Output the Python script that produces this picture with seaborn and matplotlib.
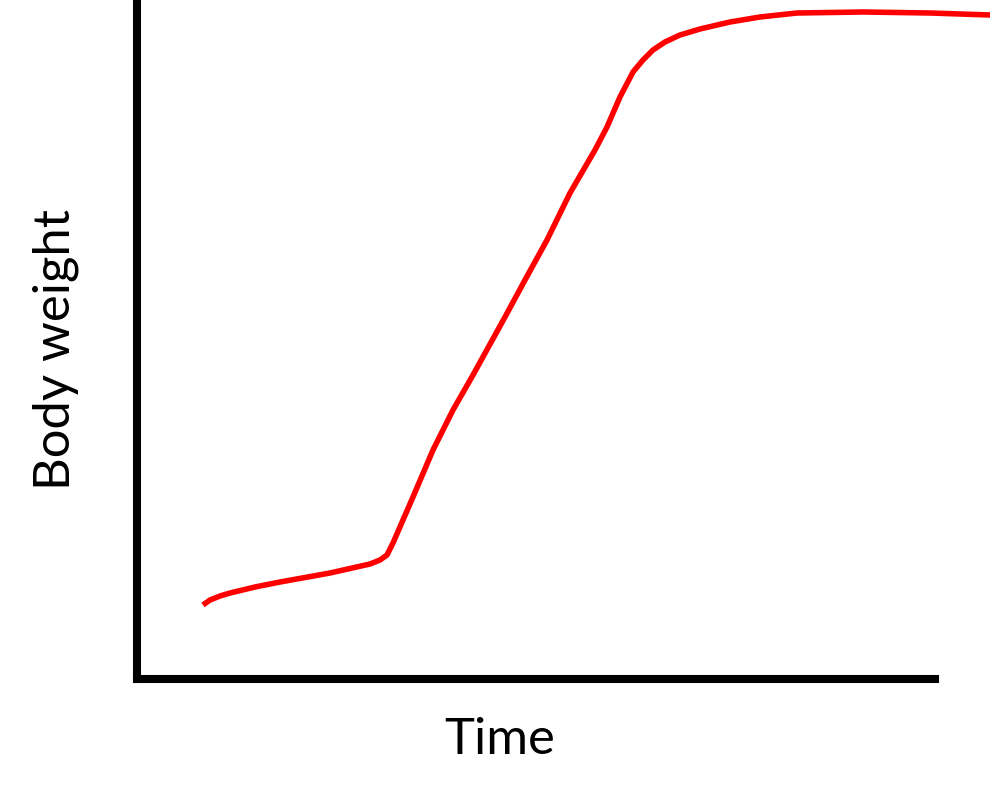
import matplotlib
matplotlib.use("Agg")
import matplotlib.pyplot as plt
import seaborn as sns
import pandas as pd

# Values (arbitrary units)
time = [66, 73, 83, 93, 118, 143, 193, 233, 243, 250, 256, 276, 296, 316, 336, 368, 388, 410,
        433, 458, 470, 483, 496, 506, 516, 528, 543, 563, 593, 623, 660, 726, 793, 853]
weight = [74, 79, 83, 86, 92, 97, 106, 115, 119, 124, 136, 182, 229, 269, 304, 362, 399, 439,
          486, 529, 552, 582, 607, 619, 629, 637, 644, 650, 657, 662, 666, 667, 666, 664]

df = pd.DataFrame({"Time": time, "Body weight": weight})

sns.set_style("white")
plt.rcParams['font.family'] = ['Lato', 'DejaVu Sans']

fig = plt.figure(figsize=(9.92, 8.06), dpi=100)
ax = fig.add_axes([137/992, (806-679)/806, 1 - 137/992, 679/806])
sns.lineplot(data=df, x="Time", y="Body weight", ax=ax, color="#ff0000", linewidth=4.0,
             sort=False, solid_joinstyle="round", solid_capstyle="butt")
ax.set_xlim(0, 855)
ax.set_ylim(0, 679)
ax.set_xticks([])
ax.set_yticks([])
for s in ["top", "right"]:
    ax.spines[s].set_visible(False)
for s in ["left", "bottom"]:
    ax.spines[s].set_color("black")
    ax.spines[s].set_linewidth(5.8)
    ax.spines[s].set_capstyle("projecting")
ax.spines["bottom"].set_bounds(0, 798)
ax.set_xlabel("Time", fontsize=36.5, color="black")
ax.set_ylabel("Body weight", fontsize=36.5, color="black")
ax.xaxis.label.set_va("center")
ax.yaxis.label.set_va("center")
ax.xaxis.set_label_coords((500 - 137) / 855, -(740 - 679) / 679)
ax.yaxis.set_label_coords((56 - 137) / 855, (679 - 350) / 679)
fig.savefig("out.png", dpi=100, facecolor="white")
